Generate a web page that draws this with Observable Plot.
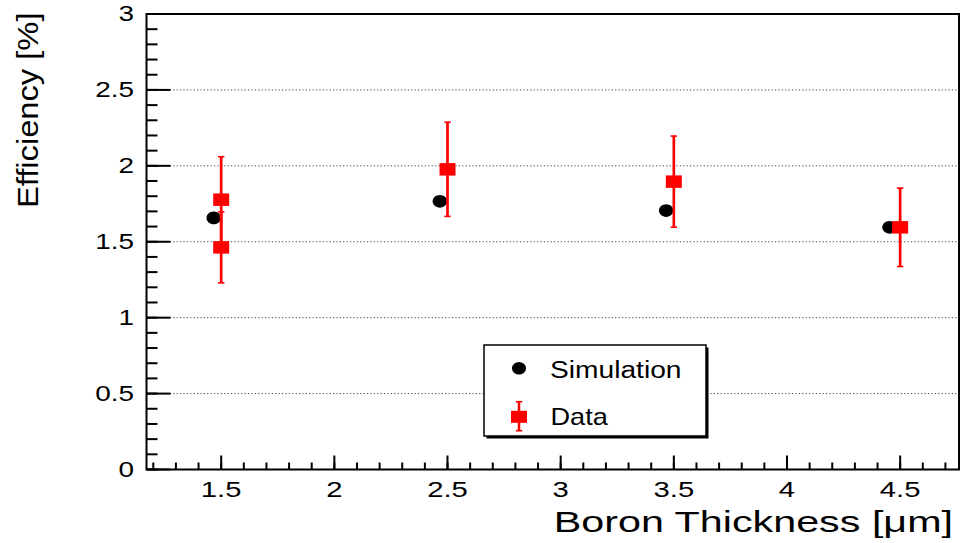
<!DOCTYPE html>
<html><head><meta charset="utf-8">
<script src="https://cdn.jsdelivr.net/npm/d3@7"></script>
<script src="https://cdn.jsdelivr.net/npm/@observablehq/plot@0.6"></script>
<style>
html,body{margin:0;padding:0;background:#fff;}
#wrap{position:relative;width:963px;height:543px;overflow:hidden;background:#fff;}
#legend{position:absolute;left:0;top:0;pointer-events:none;}
</style></head><body>
<div id="wrap"></div>
<script>
// ---- data ----
const simThickness = [1.467, 2.466, 3.466, 4.453];
const simEfficiency = [1.657, 1.766, 1.705, 1.595];
const dataThickness = [1.5, 1.5, 2.5, 3.5, 4.5];
const dataEfficiency = [1.777, 1.463, 1.977, 1.896, 1.595];
const dataError = [0.283, 0.234, 0.31, 0.30, 0.258];
const xTickValues = [1.5, 2, 2.5, 3, 3.5, 4, 4.5];
const xTickLabels = ["1.5", "2", "2.5", "3", "3.5", "4", "4.5"];
const yTickValues = [0, 0.5, 1, 1.5, 2, 2.5, 3];
const yTickLabels = ["0", "0.5", "1", "1.5", "2", "2.5", "3"];
const gridValues = [0.5, 1, 1.5, 2, 2.5];
const xMinorTicks = d3.range(12, 48).map(d => d / 10);
const yMinorTicks = d3.range(0, 31).map(d => d / 10);
const xDomain = [1.17, 4.76];
const yDomain = [0, 3];
const xTitle = "Boron Thickness [μm]";
const yTitle = "Efficiency [%]";
const legendLabels = ["Simulation", "Data"];

const sim = simThickness.map((x, i) => ({x, y: simEfficiency[i]}));
const dat = dataThickness.map((x, i) => ({x, y: dataEfficiency[i], e: dataError[i]}));

// ---- custom symbols ----
const K = 0.5523;
function ellipseSymbol(rx, ry) {
  return {draw(c) {
    c.moveTo(rx, 0);
    c.bezierCurveTo(rx, K * ry, K * rx, ry, 0, ry);
    c.bezierCurveTo(-K * rx, ry, -rx, K * ry, -rx, 0);
    c.bezierCurveTo(-rx, -K * ry, -K * rx, -ry, 0, -ry);
    c.bezierCurveTo(K * rx, -ry, rx, -K * ry, rx, 0);
    c.closePath();
  }};
}
function rectSymbol(w, h) { return {draw(c) { c.rect(-w / 2, -h / 2, w, h); }}; }
function hLine(x0, x1) { return {draw(c) { c.moveTo(x0, 0); c.lineTo(x1, 0); }}; }
function vLine(y0, y1) { return {draw(c) { c.moveTo(0, y0); c.lineTo(0, y1); }}; }

const FONT = "'Liberation Sans', Arial, Helvetica, sans-serif";

const chart = Plot.plot({
  width: 963, height: 543,
  marginLeft: 146, marginRight: 4.5, marginTop: 13.5, marginBottom: 74,
  x: {domain: xDomain, axis: null},
  y: {domain: yDomain, axis: null},
  style: {fontFamily: FONT, background: "white", overflow: "visible", color: "black"},
  marks: [
    Plot.ruleY(gridValues, {y: d => d, stroke: "#444", strokeWidth: 1, strokeDasharray: "1.2,2.2"}),
    // y ticks (inside, left)
    Plot.dot(yMinorTicks, {x: () => xDomain[0], y: d => d, r: 1, symbol: hLine(0, 11), fill: "none", stroke: "black", strokeWidth: 2}),
    Plot.dot(yTickValues, {x: () => xDomain[0], y: d => d, r: 1, symbol: hLine(0, 24), fill: "none", stroke: "black", strokeWidth: 2}),
    // x ticks (inside, bottom)
    Plot.dot(xMinorTicks, {x: d => d, y: () => yDomain[0], r: 1, symbol: vLine(0, -7), fill: "none", stroke: "black", strokeWidth: 2}),
    Plot.dot(xTickValues, {x: d => d, y: () => yDomain[0], r: 1, symbol: vLine(0, -14), fill: "none", stroke: "black", strokeWidth: 2}),
    // simulation
    Plot.dot(sim, {x: "x", y: "y", r: 1, symbol: ellipseSymbol(7.2, 6.3), fill: "black", stroke: "none"}),
    // data with errors
    Plot.ruleX(dat, {x: "x", y1: d => d.y - d.e, y2: d => d.y + d.e, stroke: "red", strokeWidth: 2.7}),
    Plot.dot(dat, {x: "x", y: d => d.y + d.e, r: 1, symbol: hLine(-3.2, 3.2), fill: "none", stroke: "red", strokeWidth: 1.6}),
    Plot.dot(dat, {x: "x", y: d => d.y - d.e, r: 1, symbol: hLine(-3.2, 3.2), fill: "none", stroke: "red", strokeWidth: 1.6}),
    Plot.dot(dat, {x: "x", y: "y", r: 1, symbol: rectSymbol(16, 12.5), fill: "red", stroke: "none"}),
    Plot.frame({stroke: "black", strokeWidth: 2}),
    // labels (order matters for the stretch step below)
    Plot.text(xTickValues, {x: d => d, text: (d, i) => xTickLabels[i], frameAnchor: "bottom", lineAnchor: "bottom", dy: 27, fontSize: 22, fill: "black"}),
    Plot.text(yTickValues, {y: d => d, text: (d, i) => yTickLabels[i], frameAnchor: "left", textAnchor: "end", dx: -12.5, fontSize: 22, fill: "black"}),
    Plot.text([xTitle], {text: d => d, frameAnchor: "bottom-right", textAnchor: "end", lineAnchor: "bottom", dx: -6, dy: 62, fontSize: 29.5, fill: "black"}),
    Plot.text([yTitle], {text: d => d, frameAnchor: "top-left", rotate: -90, textAnchor: "end", lineAnchor: "bottom", dx: -109, dy: -1.5, fontSize: 30, fill: "black"})
  ]
});

const wrap = document.getElementById("wrap");
wrap.appendChild(chart);

// widen the glyphs horizontally like the reference rendering
const textGroups = chart.querySelectorAll('g[aria-label="text"]');
const stretchFactors = [1.33, 1.27, 1.4, 1.09];
textGroups.forEach((g, gi) => {
  const s = stretchFactors[gi];
  if (!s) return;
  g.querySelectorAll("text").forEach(t => {
    const tr = t.getAttribute("transform");
    if (tr) t.setAttribute("transform", tr + ` scale(${s},1)`);
    else {
      const x = +t.getAttribute("x") || 0, y = +t.getAttribute("y") || 0;
      t.removeAttribute("x"); t.removeAttribute("y");
      t.setAttribute("transform", `translate(${x},${y}) scale(${s},1)`);
    }
  });
});

// ---- legend overlay ----
const NS = "http://www.w3.org/2000/svg";
const lg = document.createElementNS(NS, "svg");
lg.setAttribute("id", "legend");
lg.setAttribute("width", 963);
lg.setAttribute("height", 543);
lg.setAttribute("font-family", FONT);
function el(name, attrs, text) {
  const e = document.createElementNS(NS, name);
  for (const k in attrs) e.setAttribute(k, attrs[k]);
  if (text != null) e.textContent = text;
  lg.appendChild(e);
  return e;
}
el("rect", {x: 486.5, y: 347.5, width: 222, height: 91, fill: "black"});
el("rect", {x: 484, y: 345, width: 222, height: 91, fill: "white", stroke: "black", "stroke-width": 1.5});
el("ellipse", {cx: 519, cy: 368.3, rx: 7, ry: 6.3, fill: "black"});
el("line", {x1: 519, x2: 519, y1: 401.7, y2: 430.7, stroke: "red", "stroke-width": 2.5});
el("line", {x1: 515.8, x2: 522.2, y1: 401.7, y2: 401.7, stroke: "red", "stroke-width": 1.6});
el("line", {x1: 515.8, x2: 522.2, y1: 430.7, y2: 430.7, stroke: "red", "stroke-width": 1.6});
el("rect", {x: 511, y: 410.8, width: 16, height: 12, fill: "red"});
el("text", {transform: "translate(550,377.7) scale(1.15,1)", "font-size": 24.5, fill: "black"}, legendLabels[0]);
el("text", {transform: "translate(550.5,425) scale(1.13,1)", "font-size": 24, fill: "black"}, legendLabels[1]);
wrap.appendChild(lg);
</script>
</body></html>
